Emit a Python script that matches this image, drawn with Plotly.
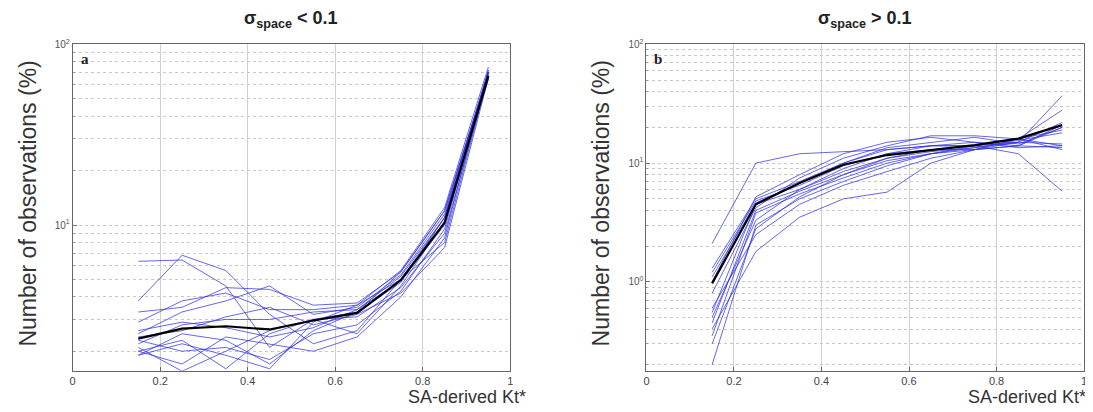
import plotly.graph_objects as go
import numpy as np

# ---------------- data ----------------
kt_bins = [0.15, 0.25, 0.35, 0.45, 0.55, 0.65, 0.75, 0.85, 0.95]

# panel a: sigma_space < 0.1 (individual sites, %)
a_sites = [
    [6.3, 6.4, 4.6, 2.1, 3.0, 3.3, 5.5, 12.0, 70],
    [3.8, 6.8, 5.6, 3.2, 2.2, 2.6, 5.0, 11.0, 72],
    [3.3, 3.5, 4.5, 4.4, 3.6, 3.7, 5.5, 12.0, 68],
    [2.9, 3.8, 4.2, 3.4, 3.4, 3.6, 5.6, 12.5, 75],
    [2.5, 3.3, 3.8, 4.6, 3.2, 3.5, 5.3, 11.5, 70],
    [2.2, 2.8, 3.0, 3.0, 3.3, 3.4, 5.2, 11.0, 66],
    [2.0, 2.3, 1.6, 2.5, 3.0, 2.5, 4.6, 10.5, 70],
    [1.9, 2.5, 2.3, 1.7, 2.6, 3.3, 4.8, 11.0, 64],
    [2.3, 2.0, 2.1, 1.8, 2.5, 2.8, 4.3, 9.5, 70],
    [2.0, 1.7, 2.4, 2.2, 2.0, 2.4, 4.0, 8.5, 72],
    [2.1, 1.55, 2.0, 2.6, 3.0, 3.1, 4.5, 9.0, 66],
    [2.6, 2.9, 2.7, 2.4, 2.7, 3.4, 4.9, 10.0, 70],
    [1.9, 2.2, 1.9, 1.6, 2.9, 3.6, 5.0, 8.0, 68],
    [2.4, 2.6, 3.1, 3.5, 2.8, 3.2, 4.2, 7.5, 65],
]
a_mean = [2.35, 2.67, 2.75, 2.64, 2.96, 3.26, 4.96, 10.3, 67]

# panel b: sigma_space > 0.1
b_sites = [
    [2.1, 10.0, 12.0, 12.5, 13.0, 14.0, 14.0, 12.0, 5.8],
    [1.3, 5.0, 7.0, 10.0, 13.0, 14.0, 14.0, 15.0, 37],
    [1.2, 4.8, 6.5, 9.5, 12.0, 13.0, 14.0, 16.0, 28],
    [0.55, 4.5, 6.0, 8.5, 11.0, 12.5, 13.5, 15.0, 22],
    [0.45, 4.0, 5.8, 8.0, 10.5, 12.0, 13.0, 14.0, 20],
    [0.35, 3.8, 5.5, 7.5, 10.0, 12.0, 13.5, 15.5, 18],
    [0.2, 3.0, 5.0, 7.0, 9.5, 12.0, 14.0, 16.0, 14],
    [0.6, 2.5, 4.5, 6.5, 8.5, 11.0, 13.0, 15.0, 14.5],
    [0.4, 1.8, 3.5, 5.0, 5.7, 10.0, 13.0, 16.0, 19],
    [1.0, 5.2, 8.0, 12.0, 15.0, 16.5, 15.0, 14.0, 13.5],
    [0.8, 4.2, 7.5, 11.0, 14.0, 17.0, 17.0, 16.0, 13],
    [1.1, 4.6, 6.8, 10.0, 13.5, 15.0, 16.5, 14.5, 20],
    [0.5, 3.3, 6.0, 9.0, 12.0, 14.0, 15.0, 13.5, 14],
    [0.3, 2.8, 5.2, 8.0, 11.0, 13.0, 13.0, 14.0, 21],
]
b_mean = [0.97, 4.5, 6.8, 9.7, 11.7, 12.9, 14.2, 16.1, 20.9]

x_ticks = [0, 0.2, 0.4, 0.6, 0.8, 1]
x_ticktext = ["0", "0.2", "0.4", "0.6", "0.8", "1"]

panel_titles = ["<b>σ<sub>space</sub> &lt; 0.1</b>", "<b>σ<sub>space</sub> &gt; 0.1</b>"]
panel_letters = ["a", "b"]
y_title = "Number of observations (%)"
x_title = "SA-derived Kt*"

# ---------------- figure ----------------
OFF = 8                      # page body margin
W, H = 1093 - OFF, 412 - OFF
FONT = "Liberation Sans, Arial, sans-serif"


def px(xr):
    return (xr - OFF) / W


def py(yr):
    return 1 - (yr - OFF) / H


fig = go.Figure()

blue = "rgba(45,45,225,0.72)"
for i, (sites, mean) in enumerate([(a_sites, a_mean), (b_sites, b_mean)]):
    xa = "x" if i == 0 else "x2"
    ya = "y" if i == 0 else "y2"
    for s in sites:
        fig.add_trace(go.Scatter(x=kt_bins, y=s, mode="lines", xaxis=xa, yaxis=ya,
                                 line=dict(color=blue, width=1), showlegend=False,
                                 hoverinfo="skip"))
    fig.add_trace(go.Scatter(x=kt_bins, y=mean, mode="lines", xaxis=xa, yaxis=ya,
                             line=dict(color="black", width=2.2), showlegend=False))


def log_ticks(lo_exp, hi_exp):
    major, text, minor = [], [], []
    for e in range(lo_exp, hi_exp + 1):
        major.append(10 ** e)
        text.append(f"10<sup>{e}</sup>")
        for m in range(2, 10):
            minor.append(m * 10 ** e)
    return major, text, minor

ya_major, ya_txt, ya_minor = log_ticks(0, 2)
yb_major, yb_txt, yb_minor = log_ticks(-1, 2)

xdom_a = [px(70), px(510)]
xdom_b = [px(647), px(1087)]
ydom = [py(370), py(38)]

common_x = dict(range=[0, 1], tickvals=x_ticks, ticktext=x_ticktext,
                showline=True, mirror=True, linecolor="#666", linewidth=1,
                ticks="inside", ticklen=4, tickcolor="#666",
                showgrid=True, gridcolor="#d0d0d0", gridwidth=1,
                zeroline=False, tickfont=dict(size=11, color="#444", family=FONT))
common_y = dict(type="log", showline=True, mirror=True, linecolor="#666", linewidth=1,
                ticks="inside", ticklen=4, tickcolor="#777",
                showgrid=True, gridcolor="#c8c8c8", griddash="dot", gridwidth=1,
                zeroline=False, tickfont=dict(size=10, color="#555", family=FONT))


def minor_cfg(vals):
    return dict(tickmode="array", tickvals=vals, ticks="inside", ticklen=2,
                tickcolor="#999", showgrid=True, gridcolor="#c8c8c8",
                griddash="dot", gridwidth=1)

fig.update_layout(
    width=W, height=H,
    margin=dict(l=0, r=0, t=0, b=0),
    paper_bgcolor="white", plot_bgcolor="white",
    xaxis=dict(domain=xdom_a, anchor="y", **common_x),
    yaxis=dict(domain=ydom, anchor="x", range=[np.log10(1.56), 2],
               tickvals=ya_major, ticktext=ya_txt, minor=minor_cfg(ya_minor), **common_y),
    xaxis2=dict(domain=xdom_b, anchor="y2", **common_x),
    yaxis2=dict(domain=ydom, anchor="x2", range=[np.log10(0.178), 2],
                tickvals=yb_major, ticktext=yb_txt, minor=minor_cfg(yb_minor), **common_y),
    showlegend=False,
)

anns = []
for i, (xd, cx_ylab, xlab_right) in enumerate([(xdom_a, 25, 528), (xdom_b, 601, 1091)]):
    cx = (xd[0] + xd[1]) / 2
    # title
    anns.append(dict(text=panel_titles[i], x=cx, y=py(13),
                     xref="paper", yref="paper", showarrow=False,
                     font=dict(size=18, color="#222", family=FONT),
                     xanchor="center", yanchor="middle"))
    # y axis title
    anns.append(dict(text=y_title, x=px(cx_ylab), y=py(200), textangle=-90,
                     xref="paper", yref="paper", showarrow=False,
                     font=dict(size=23, color="#333", family=FONT),
                     xanchor="center", yanchor="middle"))
    # x axis title
    anns.append(dict(text=x_title, x=px(xlab_right), y=py(397),
                     xref="paper", yref="paper", showarrow=False,
                     font=dict(size=18, color="#333", family=FONT),
                     xanchor="right", yanchor="middle"))
    # panel letter
    anns.append(dict(text=f"<b>{panel_letters[i]}</b>", x=xd[0] + 6 / W, y=py(53),
                     xref="paper", yref="paper", showarrow=False,
                     font=dict(size=15, color="#222", family="Liberation Serif, Times New Roman, serif"),
                     xanchor="left", yanchor="middle"))
fig.update_layout(annotations=anns)

fig.write_html("out.html")
